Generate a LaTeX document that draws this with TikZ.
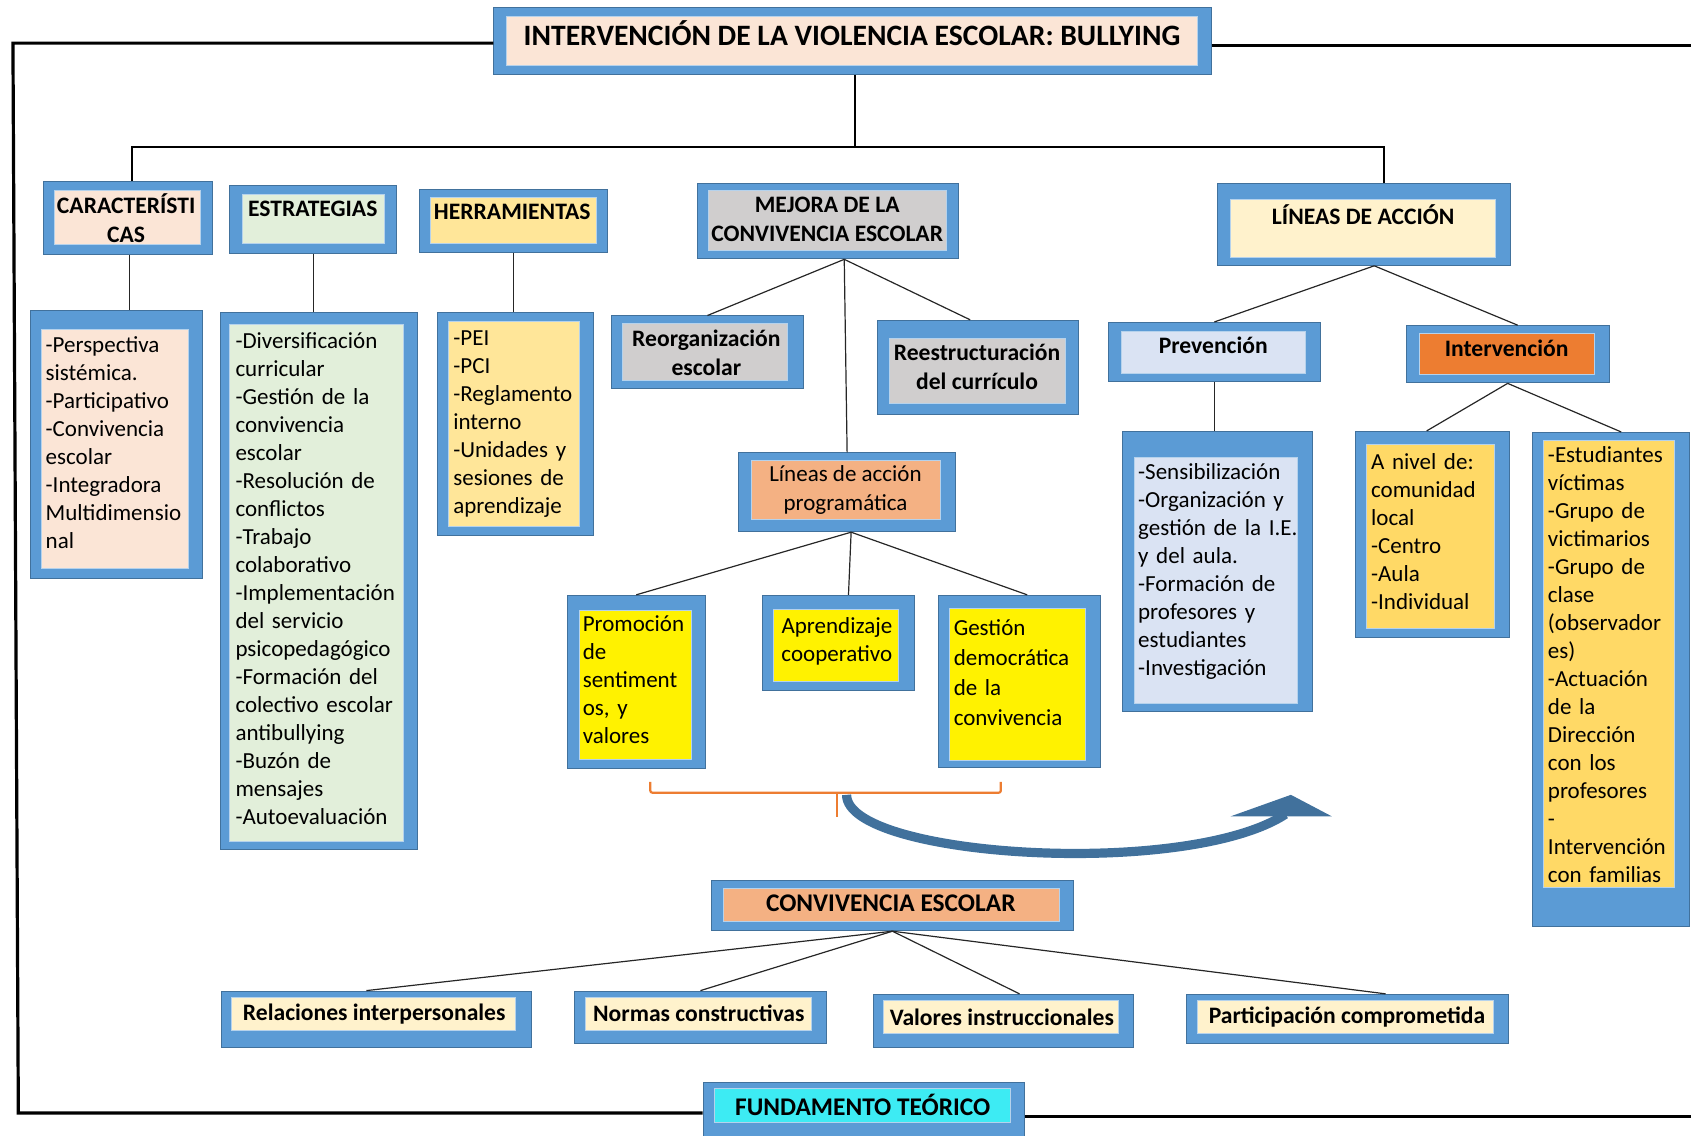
\documentclass[tikz,border=0pt]{standalone}
\usepackage{fontspec}
\setmainfont{Carlito}
\usetikzlibrary{fit}

\definecolor{azul}{HTML}{5B9BD5}
\definecolor{azulosc}{HTML}{41719C}
\definecolor{rosa}{HTML}{FBE5D6}
\definecolor{verde}{HTML}{E2EFDA}
\definecolor{arena}{HTML}{FFE699}
\definecolor{gris}{HTML}{D0CECE}
\definecolor{crema}{HTML}{FFF2CC}
\definecolor{salmon}{HTML}{F4B183}
\definecolor{celeste}{HTML}{DAE3F3}
\definecolor{naranja}{HTML}{ED7D31}
\definecolor{oro}{HTML}{FFD966}
\definecolor{cian}{HTML}{3DEBF3}

\tikzset{
  marco/.style={draw=azulosc, fill=azul, line width=0.5pt, inner sep=0pt},
  fondo/.style={draw=white!55!azul, line width=0.4pt, inner sep=0pt},
  lista/.style={anchor=north west, inner sep=0pt, align=left, text width=#1,
    font=\fontsize{11.5}{14}\selectfont, execute at begin node=\strut},
  cabeza/.style={inner sep=0pt, align=center, font=\bfseries\fontsize{11.8}{14.5}\selectfont},
  grande/.style={cabeza, font=\bfseries\fontsize{12.7}{15}\selectfont},
  rama/.style={draw=black!85, line width=0.6pt},
}

\begin{document}
\begin{tikzpicture}[x=0.5392pt, y=-0.5392pt]
	\useasboundingbox (0,0) rectangle (1568,1053);
	
	%titulo y marco
	\node[marco, fit={(458,7) (1123,69)}] (titulo) {};
	\node[fondo, fill=rosa, fit={(470,15) (1110,61)}] (titulo-f) {};
	\node[cabeza, font=\bfseries\fontsize{14.8}{17}\selectfont] (titulo-t) at (790,31) {INTERVENCIÓN DE LA VIOLENCIA ESCOLAR: BULLYING};
	
	\node[marco, fit={(652,1004) (950,1060)}] (fund) {};
	\node[fondo, fill=cian, fit={(662,1009) (937,1041)}] (fund-f) {};
	\node[grande] (fund-t) at (800,1025) {FUNDAMENTO TEÓRICO};
	
	\coordinate (esq-a) at (12,40);
	\coordinate (esq-b) at (17,1032);
	\coordinate (fin-a) at (1575,42);
	\coordinate (fin-b) at (1575,1035);
	\draw[line width=1.6pt] (titulo.west |- esq-a) -- (esq-a) -- (esq-b) -- (fund.west |- esq-b);
	\draw[line width=1.6pt] (titulo.east |- fin-a) -- (fin-a);
	\draw[line width=1.6pt] (fund.east |- fin-b) -- (fin-b);
	
	%primer nivel
	\node[marco, fit={(40,168) (197,236)}] (car) {};
	\node[fondo, fill=rosa, fit={(50,177) (186,227)}] (car-f) {};
	\node[cabeza] (car-t) at (117,202.5) {CARACTERÍSTI\\CAS};
	
	\node[marco, fit={(213,172) (368,235)}] (estr) {};
	\node[fondo, fill=verde, fit={(225,180) (356,226)}] (estr-f) {};
	\node[cabeza] (estr-t) at (290,194) {ESTRATEGIAS};
	
	\node[marco, fit={(389,176) (563,234)}] (herr) {};
	\node[fondo, fill=arena, fit={(399,183) (553,226)}] (herr-f) {};
	\node[cabeza] (herr-t) at (475,196) {HERRAMIENTAS};
	
	\node[marco, fit={(647,170) (889,240)}] (mejora) {};
	\node[fondo, fill=gris, fit={(657,177) (878,232)}] (mejora-f) {};
	\node[cabeza] (mejora-t) at (767,203.5) {MEJORA DE LA\\CONVIVENCIA ESCOLAR};
	
	\node[marco, fit={(1129,170) (1401,246)}] (lineas) {};
	\node[fondo, fill=crema, fit={(1141,185) (1387,239)}] (lineas-f) {};
	\node[cabeza] (lineas-t) at (1264,199) {LÍNEAS DE ACCIÓN};
	
	\coordinate (eje) at (793,136);
	\draw[line width=1.1pt] (eje |- titulo.south) -- (eje);
	\draw[line width=1.1pt] ([xshift=2pt]car.north) |- (eje) -| ([xshift=10pt]lineas.north);
	
	%listas de la izquierda
	\node[marco, fit={(28,288) (188,536)}] (car-l) {};
	\node[fondo, fill=rosa, fit={(38,305) (175,527)}] (car-lf) {};
	\node[lista=71pt] (car-lt) at (42,308) {-Perspectiva\\sistémica.\\-Participativo\\-Convivencia\\escolar\\-Integradora\\Multidimensio\\nal};
	
	\node[marco, fit={(204,290) (387,788)}] (estr-l) {};
	\node[fondo, fill=verde, fit={(213,301) (374,780)}] (estr-lf) {};
	\node[lista=84pt] (estr-lt) at (218,305) {-Diversificación\\curricular\\-Gestión de la\\convivencia\\escolar\\-Resolución de\\conflictos\\-Trabajo\\colaborativo\\-Implementación\\del servicio\\psicopedagógico\\-Formación del\\colectivo escolar\\antibullying\\-Buzón de\\mensajes\\-Autoevaluación};
	
	\node[marco, fit={(406,290) (550,497)}] (herr-l) {};
	\node[fondo, fill=arena, fit={(416,298) (537,488)}] (herr-lf) {};
	\node[lista=64pt] (herr-lt) at (420,302) {-PEI\\-PCI\\-Reglamento\\interno\\-Unidades y\\sesiones de\\aprendizaje};
	
	\draw[rama] ([xshift=1pt]car.south) -- ([xshift=1pt]car.south |- car-l.north);
	\draw[rama] (estr.south) -- (estr.south |- estr-l.north);
	\draw[rama] (herr.south) -- (herr.south |- herr-l.north);
	
	%mejora de la convivencia
	\node[marco, fit={(567,293) (745,360)}] (reorg) {};
	\node[fondo, fill=gris, fit={(577,300) (730,353)}] (reorg-f) {};
	\node[cabeza] (reorg-t) at (655,327) {Reorganización\\escolar};
	
	\node[marco, fit={(814,297) (1000,384)}] (reest) {};
	\node[fondo, fill=gris, fit={(825,314) (988,374)}] (reest-f) {};
	\node[cabeza] (reest-t) at (906,340) {Reestructuración\\del currículo};
	
	\node[marco, fit={(685,420) (886,493)}] (prog) {};
	\node[fondo, fill=salmon, fit={(697,427) (872,482)}] (prog-f) {};
	\node[cabeza, font=\fontsize{11.5}{14.5}\selectfont] (prog-t) at (784,454.5) {Líneas de acción\\programática};
	
	\draw[rama] ([xshift=8pt]mejora.south) -- (reorg.north);
	\draw[rama] ([xshift=8pt]mejora.south) -- ([xshift=-4pt]reest.north);
	\draw[rama] ([xshift=8pt]mejora.south) -- (prog.north);
	
	\node[marco, fit={(526,552) (654,713)}] (promo) {};
	\node[fill=yellow, fondo, fit={(537,566) (641,704)}] (promo-f) {};
	\node[lista=54pt] (promo-t) at (540,567) {Promoción\\de\\sentiment\\os, y\\valores};
	
	\node[marco, fit={(707,552) (848,640)}] (aprend) {};
	\node[fondo, fill=yellow, fit={(717,565) (833,632)}] (aprend-f) {};
	\node[cabeza, font=\fontsize{11.5}{14}\selectfont] (aprend-t) at (776,595) {Aprendizaje\\cooperativo};
	
	\node[marco, fit={(870,552) (1020,712)}] (gest) {};
	\node[fondo, fill=yellow, fit={(880,564) (1006,705)}] (gest-f) {};
	\node[lista=66pt, font=\fontsize{11.5}{15}\selectfont] (gest-t) at (884,569) {Gestión\\democrática\\de la\\convivencia};
	
	\draw[rama] ([xshift=2pt]prog.south) -- (promo.north);
	\draw[rama] ([xshift=2pt]prog.south) -- ([xshift=5pt]aprend.north);
	\draw[rama] ([xshift=2pt]prog.south) -- ([xshift=4pt]gest.north);
	
	%llave y flecha
	\draw[naranja, line width=1.1pt, rounded corners=1pt] (603,725) -- (603,735) -- (928,735) -- (928,725);
	\draw[naranja, line width=1.1pt] (776,735) -- (776,758);
	\draw[azulosc, line width=4.6pt] (785,737) .. controls (785,795) and (1100,815) .. (1192,755);
	\fill[azulosc] (1141,757) -- (1197,737) -- (1235,757) -- cycle;
	
	%lineas de accion
	\node[marco, fit={(1028,299) (1224,354)}] (prev) {};
	\node[fondo, fill=celeste, fit={(1040,307) (1210,346)}] (prev-f) {};
	\node[cabeza] (prev-t) at (1125,320) {Prevención};
	
	\node[marco, fit={(1304,302) (1492,355)}] (interv) {};
	\node[fondo, fill=naranja, fit={(1316,309) (1478,347)}] (interv-f) {};
	\node[cabeza] (interv-t) at (1397,323) {Intervención};
	
	\draw[rama] ([xshift=5pt]lineas.south) -- (prev.north);
	\draw[rama] ([xshift=5pt]lineas.south) -- ([xshift=5pt]interv.north);
	
	\node[marco, fit={(1041,400) (1217,660)}] (prev-l) {};
	\node[fondo, fill=celeste, fit={(1052,424) (1203,652)}] (prev-lf) {};
	\node[lista=80pt] (prev-lt) at (1055,426) {-Sensibilización\\-Organización y\\gestión de la I.E.\\y del aula.\\-Formación de\\profesores y\\estudiantes\\-Investigación};
	
	\node[marco, fit={(1257,400) (1400,591)}] (nivel) {};
	\node[fondo, fill=oro, fit={(1267,412) (1386,583)}] (nivel-f) {};
	\node[lista=62pt] (nivel-t) at (1271,417) {A nivel de:\\comunidad\\local\\-Centro\\-Aula\\-Individual};
	
	\node[marco, fit={(1421,401) (1567,859)}] (estud) {};
	\node[fondo, fill=oro, fit={(1431,408) (1553,823)}] (estud-f) {};
	\node[lista=64pt] (estud-t) at (1435,410) {-Estudiantes\\víctimas\\-Grupo de\\victimarios\\-Grupo de\\clase\\(observador\\es)\\-Actuación\\de la\\Dirección\\con los\\profesores\\-\\Intervención\\con familias};
	
	\draw[rama] (prev.south) -- (prev.south |- prev-l.north);
	\draw[rama] (interv.south) -- ([xshift=-3pt]nivel.north);
	\draw[rama] (interv.south) -- ([xshift=5pt]estud.north);
	
	%convivencia escolar
	\node[marco, fit={(660,816) (995,863)}] (conv) {};
	\node[fondo, fill=salmon, fit={(671,824) (982,854)}] (conv-f) {};
	\node[grande] (conv-t) at (826,838) {CONVIVENCIA ESCOLAR};
	
	\node[marco, fit={(205,919) (493,971)}] (rel) {};
	\node[fondo, fill=crema, fit={(215,925) (478,955)}] (rel-f) {};
	\node[cabeza] (rel-t) at (347,940) {Relaciones interpersonales};
	
	\node[marco, fit={(533,919) (766,968)}] (normas) {};
	\node[fondo, fill=crema, fit={(543,925) (752,955)}] (normas-f) {};
	\node[cabeza] (normas-t) at (648,940) {Normas constructivas};
	
	\node[marco, fit={(810,922) (1051,971)}] (val) {};
	\node[fondo, fill=crema, fit={(819,928) (1037,958)}] (val-f) {};
	\node[cabeza] (val-t) at (929,943) {Valores instruccionales};
	
	\node[marco, fit={(1100,922) (1399,968)}] (part) {};
	\node[fondo, fill=crema, fit={(1110,928) (1385,958)}] (part-f) {};
	\node[cabeza] (part-t) at (1249,943) {Participación comprometida};
	
	\draw[rama] (conv.south) -- ([xshift=-5pt]rel.north);
	\draw[rama] (conv.south) -- (normas.north);
	\draw[rama] (conv.south) -- ([xshift=8pt]val.north);
	\draw[rama] (conv.south) -- ([xshift=19pt]part.north);
\end{tikzpicture}
\end{document}
